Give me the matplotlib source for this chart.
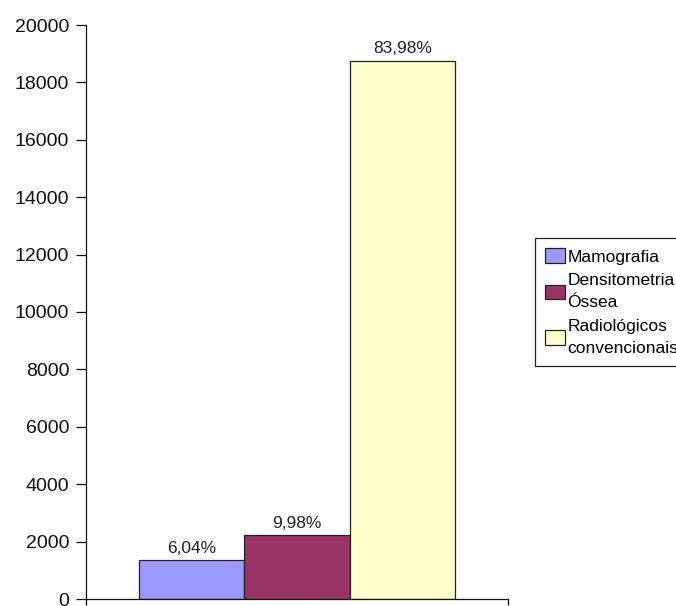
import matplotlib
matplotlib.use("Agg")
import matplotlib.pyplot as plt

# ── Data ──────────────────────────────────────────────────────────────────────
categories = ["Mamografia", "Densitometria\nÓssea", "Radiológicos\nconvencionais"]
values = [1349, 2230, 18761]
pct_labels = ["6,04%", "9,98%", "83,98%"]
colors = ["#9999FF", "#993366", "#FFFFCC"]

plt.rcParams["font.family"] = ["Liberation Sans", "DejaVu Sans"]

fig = plt.figure(figsize=(6.76, 6.06), dpi=100)
ax = fig.add_axes([86 / 676, 1 - 599 / 606, 422 / 676, 574 / 606])

positions = [-1, 0, 1]
bars = ax.bar(positions, values, width=1.0, color=colors,
              edgecolor="#222222", linewidth=0.9, label=categories)

for b, txt in zip(bars, pct_labels):
    ax.annotate(txt, (b.get_x() + b.get_width() / 2, b.get_height()),
                textcoords="offset points", xytext=(0, 3),
                ha="center", va="bottom", fontsize=12.5, color="#222222")

ax.set_xlim(-2, 2)
ax.set_ylim(0, 20000)
ax.set_yticks(range(0, 20001, 2000))
ax.set_xticks([-2, 2])
ax.set_xticklabels([])
ax.tick_params(axis="y", direction="out", length=7, width=0.9,
               labelsize=14, pad=5, colors="#111111")
ax.tick_params(axis="x", direction="out", length=4.5, width=0.9)

for side in ("top", "right"):
    ax.spines[side].set_visible(False)
for side in ("left", "bottom"):
    ax.spines[side].set_linewidth(0.9)
    ax.spines[side].set_color("#111111")

# legend box runs past the right edge, as in the original
leg = fig.legend(handles=bars, labels=categories,
                 loc="upper left", bbox_to_anchor=(535 / 676, 1 - 238 / 606),
                 fontsize=12.5, frameon=True, fancybox=False,
                 edgecolor="#222222", framealpha=1,
                 handlelength=1.15, handleheight=0.9, handletextpad=0.12,
                 borderpad=0.6, labelspacing=0.5, borderaxespad=0)
leg.get_frame().set_linewidth(0.9)
for t in leg.get_texts():
    t.set_linespacing(1.58)

fig.savefig("out.png", dpi=100, facecolor="white")
